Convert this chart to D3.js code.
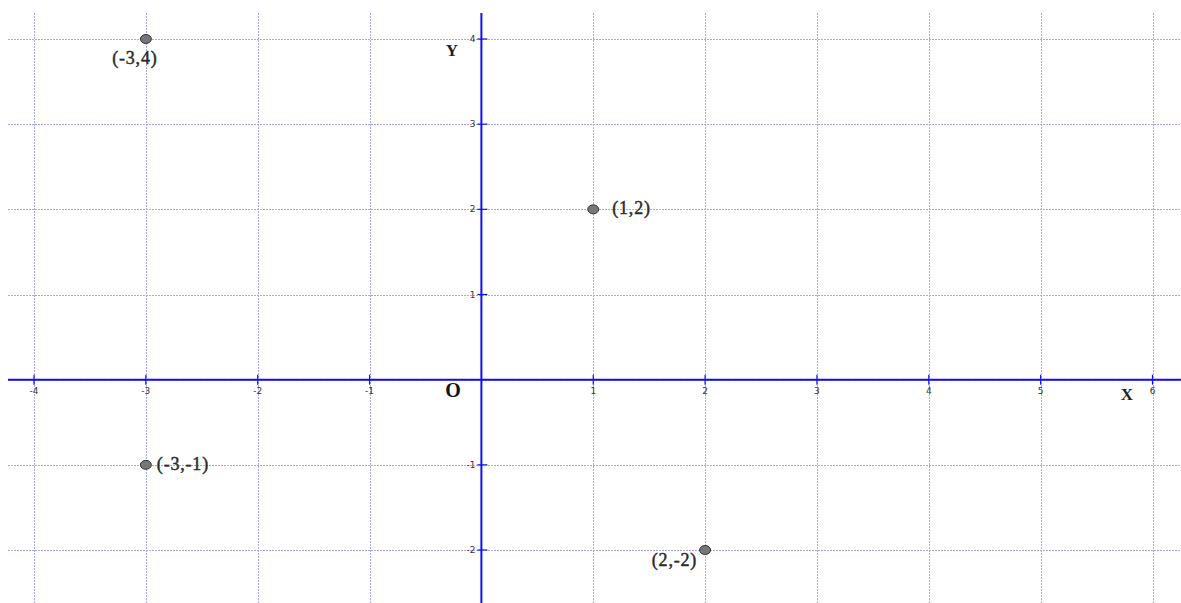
<!DOCTYPE html>
<html><head><meta charset="utf-8">
<script src="https://cdn.jsdelivr.net/npm/d3@7"></script>
<style>body{margin:0;background:#fff;}svg{display:block;}</style>
</head><body>
<script>
const xTicks = [-4,-3,-2,-1,1,2,3,4,5,6];
const yTicks = [-2,-1,1,2,3,4];
const xGrid = [-4,-3,-2,-1,0,1,2,3,4,5,6];
const yGrid = [-2,-1,0,1,2,3,4];
const pointsX = [-3, 1, -3, 2];
const pointsY = [4, 2, -1, -2];
const pointLabels = ["(-3,4)", "(1,2)", "(-3,-1)", "(2,-2)"];
const labelPos = ["below", "right", "right", "left"];

const W = 1181, H = 603;
const x = d3.scaleLinear().domain([-4, 6]).range([34, 1152.5]);
const y = d3.scaleLinear().domain([-2, 4]).range([550, 39]);

const svg = d3.select("body").append("svg").attr("width", W).attr("height", H);

const grid = svg.append("g").attr("stroke", "#a8a8f0").attr("stroke-width", 1).attr("stroke-dasharray", "2,1");
grid.selectAll("line.v").data(xGrid).join("line").attr("class","v")
  .attr("x1", d => Math.round(x(d))+0.5).attr("x2", d => Math.round(x(d))+0.5)
  .attr("y1", 13).attr("y2", H);
grid.selectAll("line.h").data(yGrid).join("line").attr("class","h")
  .attr("y1", d => Math.round(y(d))+0.5).attr("y2", d => Math.round(y(d))+0.5)
  .attr("x1", 8).attr("x2", W);

const x0 = x(0), y0 = y(0);
svg.append("line").attr("x1", 8).attr("x2", W).attr("y1", y0).attr("y2", y0)
  .attr("stroke", "#1010ee").attr("stroke-width", 2);
svg.append("line").attr("x1", x0).attr("x2", x0).attr("y1", 13).attr("y2", H)
  .attr("stroke", "#1010ee").attr("stroke-width", 2);

svg.selectAll("line.xt").data(xTicks).join("line").attr("class","xt")
  .attr("x1", d => x(d)).attr("x2", d => x(d)).attr("y1", y0-5).attr("y2", y0+5)
  .attr("stroke", "#1010ee").attr("stroke-width", 1.2);
svg.selectAll("line.yt").data(yTicks).join("line").attr("class","yt")
  .attr("y1", d => y(d)).attr("y2", d => y(d)).attr("x1", x0-4).attr("x2", x0+6)
  .attr("stroke", "#1010ee").attr("stroke-width", 1.2);

const tickFont = "'DejaVu Sans', sans-serif";
svg.selectAll("text.xl").data(xTicks).join("text").attr("class","xl")
  .attr("x", d => x(d)).attr("y", y0+14).attr("text-anchor", "middle")
  .attr("font-family", tickFont).attr("font-size", 9).attr("fill", "#333")
  .text(d => d);
svg.selectAll("text.yl").data(yTicks).join("text").attr("class","yl")
  .attr("x", x0-6).attr("y", d => y(d)+3).attr("text-anchor", "end")
  .attr("font-family", tickFont).attr("font-size", 9).attr("fill", "#333")
  .text(d => d);

const serif = "'Liberation Serif', 'DejaVu Serif', serif";
svg.append("text").attr("x", 452).attr("y", 56).attr("text-anchor","middle")
  .attr("font-family", serif).attr("font-size", 17).attr("font-weight","bold").attr("fill","#222").text("Y");
svg.append("text").attr("x", 1127).attr("y", 400).attr("text-anchor","middle")
  .attr("font-family", serif).attr("font-size", 17).attr("font-weight","bold").attr("fill","#222").text("X");
svg.append("text").attr("x", 453).attr("y", 397).attr("text-anchor","middle")
  .attr("font-family", serif).attr("font-size", 20).attr("font-weight","bold").attr("fill","#111").text("O");

const pts = pointsX.map((d,i) => ({x: d, y: pointsY[i], label: pointLabels[i], pos: labelPos[i]}));
svg.selectAll("ellipse.pt").data(pts).join("ellipse").attr("class","pt")
  .attr("cx", d => x(d.x)).attr("cy", d => y(d.y)).attr("rx", 5.5).attr("ry", 4.5)
  .attr("fill", "#777").attr("stroke", "#333").attr("stroke-width", 1);

svg.selectAll("text.pl").data(pts).join("text").attr("class","pl")
  .attr("x", d => d.pos === "below" ? x(d.x) - 11 : d.pos === "right" ? x(d.x) + (d.label.length > 5 ? 11 : 19) : x(d.x) - 8)
  .attr("y", d => d.pos === "below" ? y(d.y) + 25 : d.pos === "left" ? y(d.y) + 16 : y(d.y) + 5)
  .attr("text-anchor", d => d.pos === "below" ? "middle" : d.pos === "left" ? "end" : "start")
  .attr("font-family", serif).attr("font-size", 18).attr("letter-spacing", 0.8)
  .attr("fill","#2a2a2a").attr("stroke", "#2a2a2a").attr("stroke-width", 0.45)
  .text(d => d.label);
</script>
</body></html>
